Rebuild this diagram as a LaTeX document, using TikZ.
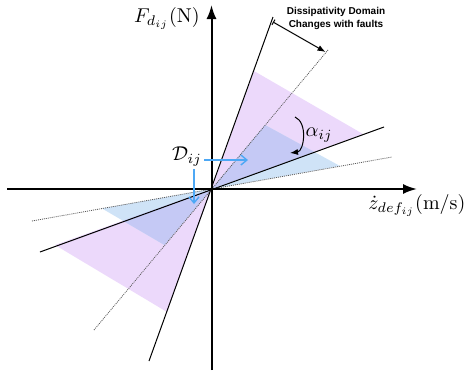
\documentclass[tikz,border=0pt]{standalone}
\usepackage{amsmath,amssymb}
\usepackage{fontspec}
\usepackage{xcolor}
\usepackage{tikz}
\usetikzlibrary{arrows.meta,positioning}
\newfontfamily\notefont{Liberation Sans}
\definecolor{pinkfill}{RGB}{236,217,251}
\definecolor{bluefill}{RGB}{207,227,247}
\definecolor{mixfill}{RGB}{197,201,245}
\definecolor{arrowblue}{RGB}{77,168,245}

\begin{document}
\begin{tikzpicture}[
        x=0.5pt, y=-0.5pt,
        axis/.style={-{Latex[length=7pt,width=5pt]}, line width=1pt},
        solidline/.style={line width=0.5pt},
        dotline/.style={dash pattern=on 0.5pt off 0.5pt, line width=0.4pt, black!65},
        darr/.style={-{Straight Barb[length=3pt,width=5pt]}, arrowblue, line width=0.7pt},
        dimarr/.style={{Bar[width=3pt]}-{Latex[length=4pt,width=3pt]}, line width=0.5pt},
        note/.style={font=\notefont\bfseries\fontsize{5}{6.5}\selectfont, align=center}
    ]
        \useasboundingbox (0,0) rectangle (471,370);
        \coordinate (o) at (211.5,189);
        % regions
        \fill[pinkfill] (o) -- (254,71) -- (363,134) -- cycle;
        \fill[pinkfill] (o) -- (55,245) -- (167,312) -- cycle;
        \fill[bluefill] (o) -- (265,125) -- (340,166) -- cycle;
        \fill[bluefill] (o) -- (102,208.5) -- (164.5,245) -- cycle;
        \begin{scope}
            \clip (o) -- (254,71) -- (363,134) -- cycle;
            \fill[mixfill] (o) -- (265,125) -- (340,166) -- cycle;
        \end{scope}
        \begin{scope}
            \clip (o) -- (55,245) -- (167,312) -- cycle;
            \fill[mixfill] (o) -- (102,208.5) -- (164.5,245) -- cycle;
        \end{scope}
        % lines through the origin
        \coordinate (s1a) at (273,17);
        \coordinate (s1b) at (149,361);
        \coordinate (d1a) at (328,50);
        \coordinate (d1b) at (94,330);
        \coordinate (s2a) at (384,127);
        \coordinate (s2b) at (40,252);
        \coordinate (d2a) at (392,157);
        \coordinate (d2b) at (32,221);
        \draw[solidline] (s1b) -- (s1a);
        \draw[solidline] (s2b) -- (s2a);
        \draw[dotline] (d1b) -- (d1a);
        \draw[dotline] (d2b) -- (d2a);
        % axes
        \coordinate (xl) at (7,189);
        \coordinate (xr) at (417,189);
        \coordinate (yb) at (211.5,370);
        \coordinate (yt) at (211.5,5);
        \draw[axis] (xl) -- (xr);
        \draw[axis] (yb) -- (yt);
        \node[anchor=east, inner sep=1pt] (flabel) at (202,18) {$F_{d_{ij}}(\mathrm{N})$};
        \node[anchor=west, inner sep=1pt] (zlabel) at (366,205) {$\dot{z}_{def_{ij}}(\mathrm{m/s})$};
        % dissipativity domain
        \node[note] (domtext) at (336,18) {Dissipativity Domain\\Changes with faults};
        \coordinate (dimstart) at (273,22);
        \coordinate (dimend) at (325.5,52);
        \draw[dimarr] (dimstart) -- (dimend);
        % angle
        \coordinate (alstart) at (295,117);
        \coordinate (alend) at (290,153);
        \draw[-{Latex[length=4pt,width=3pt]}, line width=0.5pt] (alstart) to[bend left=75] (alend);
        \node (alpha) at (319,135) {$\alpha_{ij}$};
        % domain label
        \node[inner sep=1pt] (dij) at (187,157) {$\mathcal{D}_{ij}$};
        \coordinate (dijr) at (248,160);
        \coordinate (dijd) at (194,204);
        \draw[darr] (dij.east |- dijr) -- (dijr);
        \draw[darr] (dij.south -| dijd) -- (dijd);
    \end{tikzpicture}
\end{document}
